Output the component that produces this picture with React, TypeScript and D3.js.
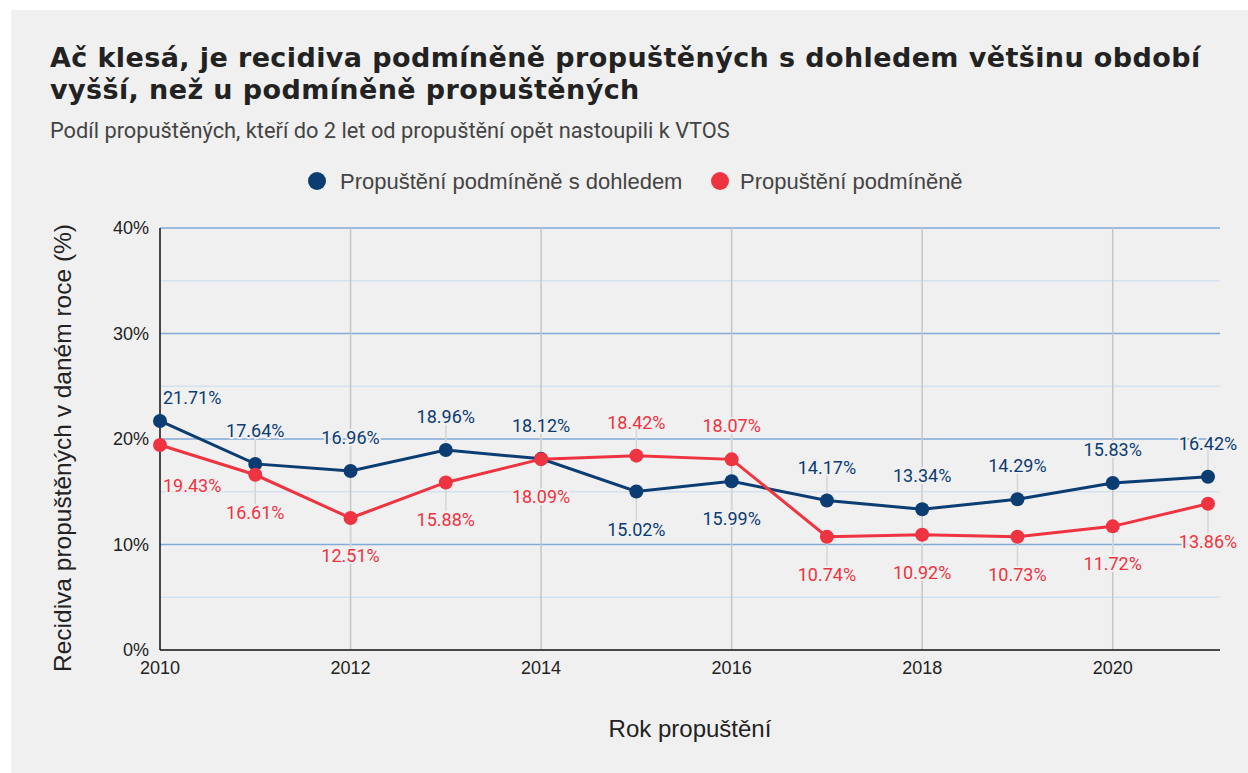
import React from "react";
import * as d3 from "d3";

const years = [2010, 2011, 2012, 2013, 2014, 2015, 2016, 2017, 2018, 2019, 2020, 2021];
const supervised = [21.71, 17.64, 16.96, 18.96, 18.12, 15.02, 15.99, 14.17, 13.34, 14.29, 15.83, 16.42];
const conditional = [19.43, 16.61, 12.51, 15.88, 18.09, 18.42, 18.07, 10.74, 10.92, 10.73, 11.72, 13.86];
const xTicks = [2010, 2012, 2014, 2016, 2018, 2020];
const yMajor = [0, 10, 20, 30, 40];
const yMinor = [5, 15, 25, 35];
const seriesNames = ["Propuštění podmíněně s dohledem", "Propuštění podmíněně"];

const W = 1248, H = 773;
const BG = "#f0f0f0";
const BLUE = "#0b3c72";
const RED = "#ee3341";

export default function App() {
  const x = d3.scaleLinear().domain([2010, 2021]).range([160, 1208]);
  const y = d3.scaleLinear().domain([0, 40]).range([650, 228]);
  const plotRight = 1220;
  const line = d3.line<number>().x((_, i) => x(years[i])).y((d) => y(d));

  const labels: { x: number; py: number; ty: number; text: string; color: string; anchor: string; first: boolean }[] = [];
  years.forEach((yr, i) => {
    const b = supervised[i], r = conditional[i];
    const blueAbove = b >= r;
    const first = i === 0;
    const up = first ? -17 : -27;
    const down = first ? 47 : 44;
    labels.push({ x: first ? 163 : x(yr), py: y(b), ty: y(b) + (blueAbove ? up : down), text: b.toFixed(2) + "%", color: BLUE, anchor: first ? "start" : "middle", first });
    labels.push({ x: first ? 163 : x(yr), py: y(r), ty: y(r) + (blueAbove ? down : up), text: r.toFixed(2) + "%", color: RED, anchor: first ? "start" : "middle", first });
  });

  return (
    <svg width={W} height={H} style={{ position: "absolute", left: 0, top: 0 }}>
      <rect x={0} y={0} width={W} height={H} fill="#ffffff" />
      <rect x={11} y={10} width={W - 11} height={H - 10} fill={BG} />
      <text x={50} y={67} fontFamily="DejaVu Sans" fontWeight="bold" fontSize={27} letterSpacing={0.4} fill="#222">
        Ač klesá, je recidiva podmíněně propuštěných s dohledem většinu období
      </text>
      <text x={50} y={99} fontFamily="DejaVu Sans" fontWeight="bold" fontSize={27} letterSpacing={0.4} fill="#222">
        vyšší, než u podmíněně propuštěných
      </text>
      <text x={50} y={138} fontFamily="Roboto" fontSize={21.8} fill="#444">
        Podíl propuštěných, kteří do 2 let od propuštění opět nastoupili k VTOS
      </text>

      {/* legend */}
      <circle cx={317} cy={181} r={9} fill={BLUE} />
      <text x={340} y={189} fontFamily="Liberation Sans" fontSize={22} fill="#444">{seriesNames[0]}</text>
      <circle cx={720} cy={181} r={9} fill={RED} />
      <text x={740} y={189} fontFamily="Liberation Sans" fontSize={22} fill="#444">{seriesNames[1]}</text>

      {/* grid */}
      {yMinor.map((v) => (
        <line key={"mn" + v} x1={x(2010)} x2={plotRight} y1={y(v)} y2={y(v)} stroke="#d3e2f1" strokeWidth={1.5} />
      ))}
      {yMajor.filter((v) => v > 0).map((v) => (
        <line key={"mj" + v} x1={x(2010)} x2={plotRight} y1={y(v)} y2={y(v)} stroke="#82aad8" strokeWidth={1.5} />
      ))}
      {xTicks.filter((t) => t > 2010).map((t) => (
        <line key={"vx" + t} x1={x(t)} x2={x(t)} y1={y(40)} y2={y(0)} stroke="#c6c6c6" strokeWidth={1.5} />
      ))}

      {/* leader lines */}
      {labels.filter((l) => !l.first).map((l, i) => (
        <line key={"ld" + i} x1={l.x} x2={l.x} y1={l.py} y2={l.ty - 6} stroke="#d6d6d6" strokeWidth={1.5} />
      ))}

      {/* axes */}
      <line x1={x(2010)} x2={x(2010)} y1={y(40)} y2={y(0)} stroke="#111" strokeWidth={1.5} />
      <line x1={x(2010)} x2={plotRight} y1={y(0)} y2={y(0)} stroke="#111" strokeWidth={1.5} />
      {yMajor.map((v) => (
        <text key={"yt" + v} x={149} y={y(v) + 6} textAnchor="end" fontFamily="Liberation Sans" fontSize={18} fill="#222">{v}%</text>
      ))}
      {xTicks.map((t) => (
        <text key={"xt" + t} x={x(t)} y={674} textAnchor="middle" fontFamily="Liberation Sans" fontSize={18} fill="#222">{t}</text>
      ))}
      <text transform={`translate(71,448) rotate(-90)`} textAnchor="middle" fontFamily="Liberation Sans" fontSize={24.5} fill="#222">
        Recidiva propuštěných v daném roce (%)
      </text>
      <text x={690} y={737} textAnchor="middle" fontFamily="Liberation Sans" fontSize={24} fill="#222">Rok propuštění</text>

      {/* lines */}
      <path d={line(supervised) || ""} fill="none" stroke={BLUE} strokeWidth={3} />
      <path d={line(conditional) || ""} fill="none" stroke={RED} strokeWidth={3} />
      {supervised.map((v, i) => (
        <circle key={"bp" + i} cx={x(years[i])} cy={y(v)} r={7} fill={BLUE} />
      ))}
      {conditional.map((v, i) => (
        <circle key={"rp" + i} cx={x(years[i])} cy={y(v)} r={7} fill={RED} />
      ))}

      {/* data labels */}
      {labels.map((l, i) => (
        <text key={"lb" + i} x={l.x} y={l.ty} textAnchor={l.anchor} fontFamily="Roboto" fontSize={18}
          fill={l.color} stroke={BG} strokeWidth={4} paintOrder="stroke" strokeLinejoin="round">{l.text}</text>
      ))}
    </svg>
  );
}
